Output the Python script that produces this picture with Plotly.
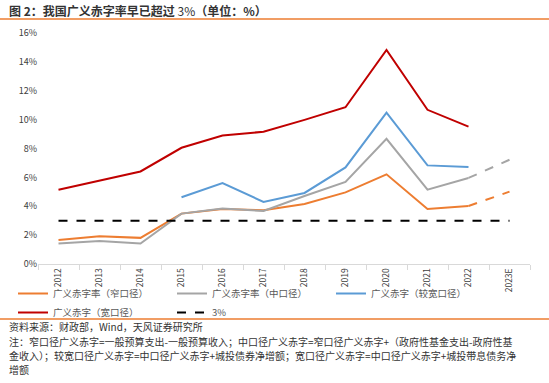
import plotly.graph_objects as go

years = ["2012", "2013", "2014", "2015", "2016", "2017", "2018", "2019", "2020", "2021", "2022", "2023E"]
narrow = [1.67, 1.92, 1.81, 3.49, 3.81, 3.72, 4.16, 4.96, 6.21, 3.81, 4.02, None]
middle = [1.42, 1.60, 1.42, 3.49, 3.84, 3.67, 4.71, 5.68, 8.67, 5.15, 5.96, None]
broader = [None, None, None, 4.62, 5.61, 4.30, 4.92, 6.69, 10.49, 6.83, 6.72, None]
wide = [5.15, 5.77, 6.41, 8.05, 8.90, 9.16, 9.98, 10.86, 14.82, 10.68, 9.52, None]
narrow_2023e = 5.01
middle_2023e = 7.22
threshold = [3.0] * len(years)

names = ["广义赤字率（窄口径）", "广义赤字率（中口径）", "广义赤字（较宽口径）", "广义赤字（宽口径）", "3%"]
colors = ["#ED7D31", "#A5A5A5", "#5B9BD5", "#C00000", "#000000"]

title_text = "<b>图 2：我国广义赤字率早已超过</b> 3%<b>（单位：%）</b>"
source_text = "资料来源：财政部，Wind，天风证券研究所"
note_lines = [
    "注：窄口径广义赤字=一般预算支出-一般预算收入；中口径广义赤字=窄口径广义赤字+（政府性基金支出-政府性基",
    "金收入）；较宽口径广义赤字=中口径广义赤字+城投债券净增额；宽口径广义赤字=中口径广义赤字+城投带息债务净",
    "增额",
]

FONT = "Noto Sans CJK SC, Noto Sans, sans-serif"

fig = go.Figure()
series = [narrow, middle, broader, wide]
for name, vals, col in zip(names[:4], series, colors[:4]):
    fig.add_trace(go.Scatter(x=years, y=vals, mode="lines", name=name,
                             line=dict(color=col, width=2), connectgaps=False))

# dashed forecast extensions (2022 -> 2023E)
for vals, proj, col in [(narrow, narrow_2023e, colors[0]), (middle, middle_2023e, colors[1])]:
    yy = [None] * (len(years) - 2) + [vals[-2], proj]
    fig.add_trace(go.Scatter(x=years, y=yy, mode="lines", showlegend=False,
                             line=dict(color=col, width=2, dash="dash")))

fig.add_trace(go.Scatter(x=years, y=threshold, mode="lines", name=names[4],
                         line=dict(color=colors[4], width=2, dash="dash")))

W, H = 549, 383
ml, mr, mt, mb = 38, 19, 33, 118.5
pw, ph = W - ml - mr, H - mt - mb

def cy(pix):
    return 1 - pix / H

def cx(pix):
    return pix / W

def px(pix):
    return (pix - ml) / pw

def py(pix):
    return (H - mb - pix) / ph

fig.update_layout(
    width=W, height=H,
    margin=dict(l=ml, r=mr, t=mt, b=mb, autoexpand=False),
    paper_bgcolor="white", plot_bgcolor="white",
    font=dict(family=FONT, size=10, color="#595959"),
    showlegend=True,
    legend=dict(orientation="h", xref="container", yref="container",
                x=cx(13), y=cy(279), xanchor="left", yanchor="top",
                entrywidth=114, entrywidthmode="pixels", font=dict(size=9.5, color="#595959"),
                itemwidth=30, tracegroupgap=0, bgcolor="rgba(0,0,0,0)"),
    xaxis=dict(type="category", range=[-0.5, len(years) - 0.5], showgrid=False, showline=True,
               linecolor="#D9D9D9", ticks="outside", tickson="boundaries", ticklen=5,
               tickcolor="#D9D9D9", tickangle=-90, tickfont=dict(size=8.5, color="#404040"),
               fixedrange=True),
    yaxis=dict(range=[0, 16], dtick=2, ticksuffix="%", showgrid=False, zeroline=False,
               showline=False, tickfont=dict(size=9, color="#404040"), fixedrange=True),
)

for ypix in (19, 319.5):
    fig.add_shape(type="line", xref="paper", yref="paper", x0=px(0), x1=px(W),
                  y0=py(ypix), y1=py(ypix), line=dict(color="#ED7D31", width=1.5))

fig.add_annotation(text=title_text, xref="paper", yref="paper",
                   x=px(7), y=py(10), xanchor="left", yanchor="middle", showarrow=False,
                   font=dict(size=12, color="#333333", family=FONT))
fig.add_annotation(text=source_text, xref="paper", yref="paper",
                   x=px(7), y=py(327.5), xanchor="left", yanchor="middle", showarrow=False,
                   font=dict(size=10, color="#333333", family=FONT))
for i, line in enumerate(note_lines):
    fig.add_annotation(text=line, xref="paper", yref="paper",
                       x=px(7), y=py(342.5 + i * 14), xanchor="left", yanchor="middle", showarrow=False,
                       font=dict(size=10, color="#333333", family=FONT))

fig.write_html("out.html", config={"displayModeBar": False},
               post_script="document.body.style.margin='0';")
